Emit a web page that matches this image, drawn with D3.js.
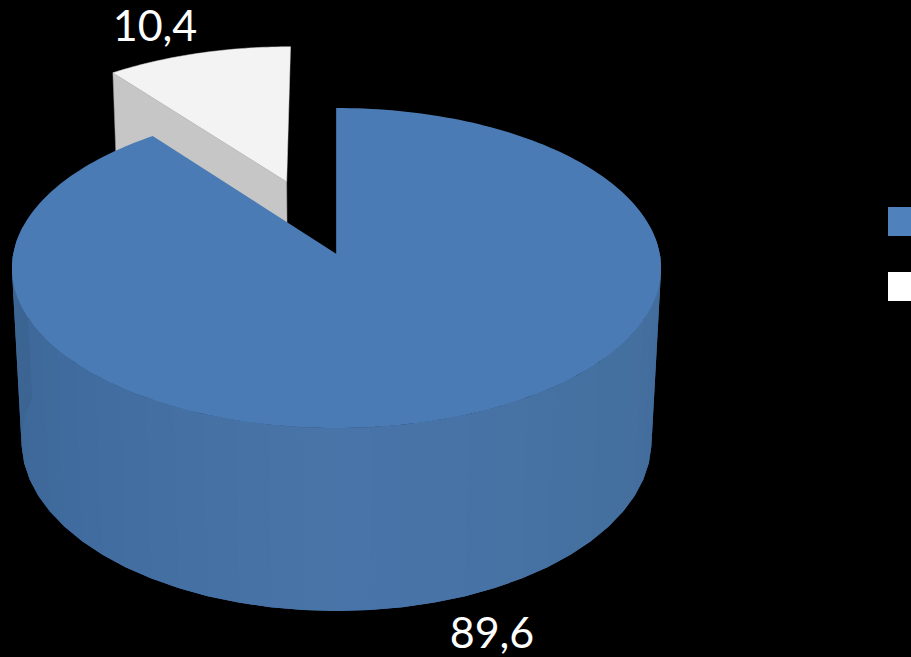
<!DOCTYPE html>
<html>
<head>
<meta charset="utf-8">
<script src="https://cdn.jsdelivr.net/npm/d3@7"></script>
<style>html,body{margin:0;padding:0;background:#000;overflow:hidden}svg{display:block}</style>
</head>
<body>
<svg id="chart" width="911" height="657"></svg>
<script>
// Data
const seriesValues = [89.6, 10.4];
const valueLabels = ["89,6", "10,4"];
const topColors = ["#4a7bb5", "#f3f3f3"];
const legendColors = ["#4f81bd", "#ffffff"];
const explode = [0, 0.5];

// Camera model for the tilted disc (unit disc -> screen)
const cam = {x0: 336.5, y0: 254, A: 323.3, B: 158.8, D: 177.7, k: 0.0875, c: 0.03};
const project = (u, v, z) => {
  const w = 1 + cam.k * v + cam.c * z;
  return [cam.x0 + cam.A * u / w, cam.y0 - (cam.B * v - cam.D * z) / w];
};

const svg = d3.select("#chart");
svg.append("rect").attr("width", 911).attr("height", 657).attr("fill", "#000");

const pie = d3.pie().sort(null).startAngle(0).endAngle(2 * Math.PI);
const arcs = pie(seriesValues);
const line = d3.line();

const offset = (a, e) => {
  const mid = (a.startAngle + a.endAngle) / 2;
  return [e * Math.sin(mid), e * Math.cos(mid)];
};
const rimPoint = (t, o, z) => project(o[0] + Math.sin(t), o[1] + Math.cos(t), z);
const sample = (a0, a1, n) => d3.range(n + 1).map(i => a0 + (a1 - a0) * i / n);

const wallTone = d3.scaleLinear()
  .domain([80, 120, 180, 240, 280].map(d => d * Math.PI / 180))
  .range(["#3f6899", "#44709f", "#4874a9", "#3f6a9c", "#3b6492"]);

// Exploded slice, drawn first because the main slice overlaps it
const small = arcs[1];
const so = offset(small, explode[1]);
const apexTop = project(so[0], so[1], 0);
const apexBase = project(so[0], so[1], 1);
svg.append("path")
  .attr("d", line([rimPoint(small.startAngle, so, 0), apexTop, apexBase, rimPoint(small.startAngle, so, 1)]) + "Z")
  .attr("fill", "#c6c6c6").attr("stroke", "#9a9a9a").attr("stroke-width", 0.5);
svg.append("path")
  .attr("d", line([apexTop].concat(sample(small.startAngle, small.endAngle, 40).map(t => rimPoint(t, so, 0)))) + "Z")
  .attr("fill", topColors[1]).attr("stroke", "#d8d8d8").attr("stroke-width", 0.5);

// Main slice: side wall as overlapping bands, then the top face
const big = arcs[0];
const bo = offset(big, explode[0]);
const wallEnd = 280 * Math.PI / 180;
const wallAngles = sample(80 * Math.PI / 180, wallEnd, 36);
svg.append("g").selectAll("path")
  .data(wallAngles.slice(0, -1).map((a, i) => [a, wallAngles[i + 1], wallAngles[Math.min(i + 2, 36)]]))
  .join("path")
  .attr("d", ([a, b, c]) => {
    const arc = [a, b, c];
    return line(arc.map(t => rimPoint(t, bo, 0)).concat(arc.slice().reverse().map(t => rimPoint(t, bo, 1)))) + "Z";
  })
  .attr("fill", ([a, b]) => wallTone((a + b) / 2));
const bigApex = project(bo[0], bo[1], 0);
svg.append("path")
  .attr("d", line([bigApex].concat(sample(big.startAngle, big.endAngle, 240).map(t => rimPoint(t, bo, 0)))) + "Z")
  .attr("fill", topColors[0]);
svg.append("path")
  .attr("d", line([rimPoint(big.startAngle, bo, 0), bigApex]))
  .attr("stroke", "#3f6899").attr("stroke-width", 1).attr("fill", "none");

// Data labels
const labelStyle = s => s.attr("font-family", "Lato, Carlito, sans-serif").attr("font-size", 43).attr("fill", "#fff");
svg.append("text").attr("x", 155).attr("y", 41).attr("text-anchor", "middle").text(valueLabels[1]).call(labelStyle);
svg.append("text").attr("x", 492).attr("y", 648).attr("text-anchor", "middle").text(valueLabels[0]).call(labelStyle);

// Legend swatches (the keys run off the right edge of the picture)
const legendY = d3.scalePoint().domain(d3.range(seriesValues.length)).range([207, 272]);
svg.append("g").selectAll("rect")
  .data(legendColors)
  .join("rect")
  .attr("x", 888).attr("y", (d, i) => legendY(i))
  .attr("width", 30).attr("height", 29)
  .attr("fill", d => d);
</script>
</body>
</html>
